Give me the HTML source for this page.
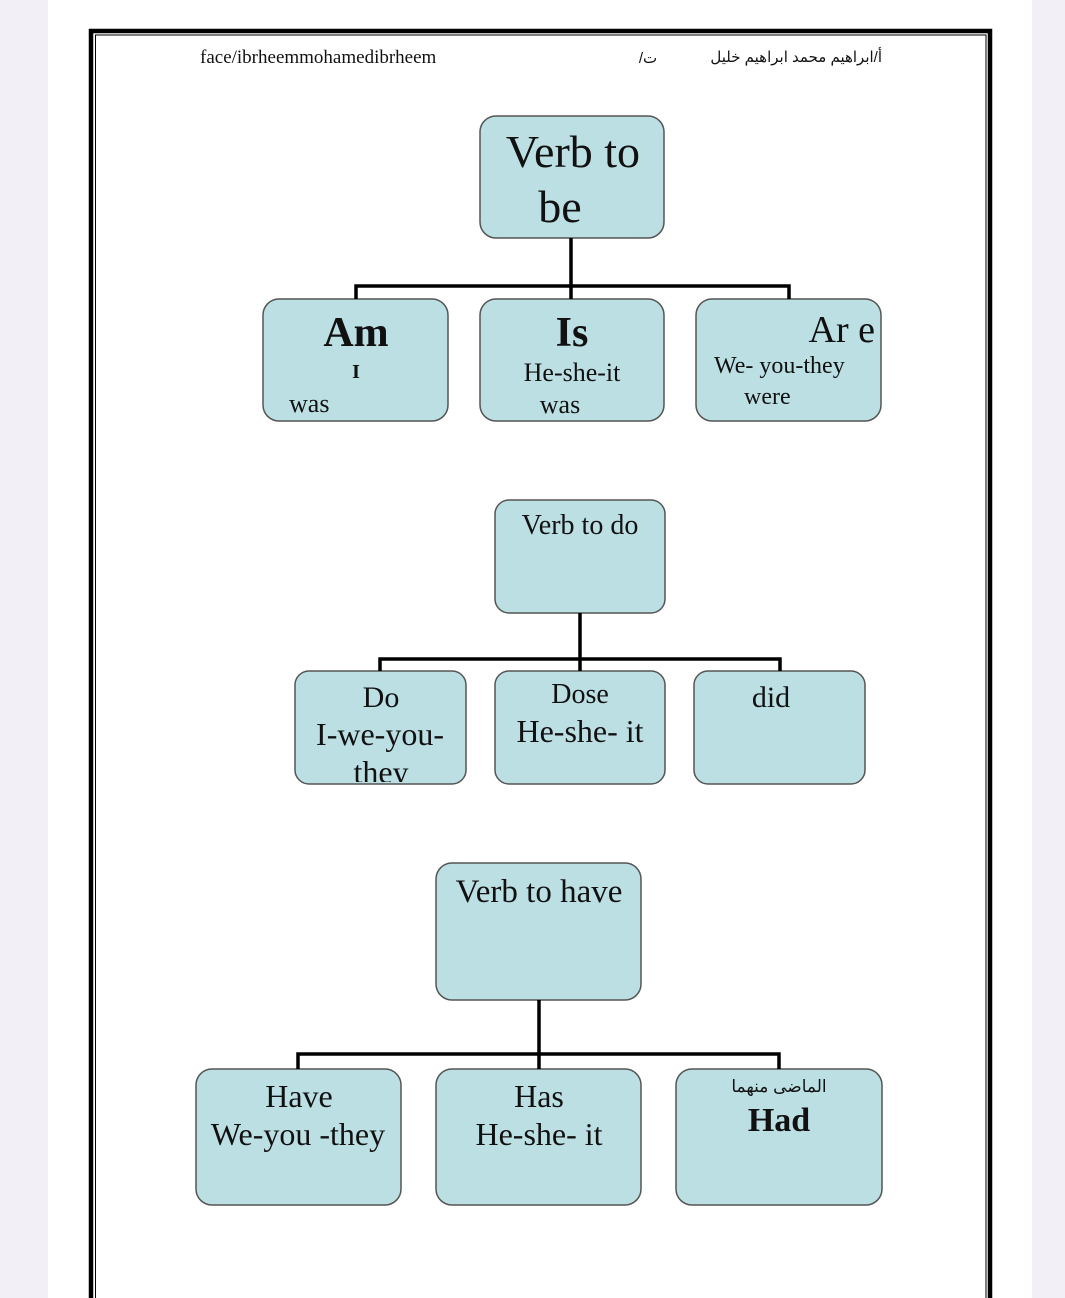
<!DOCTYPE html>
<html><head><meta charset="utf-8"><style>
html,body{margin:0;padding:0;background:#f2eff6;}
svg{display:block;}
text{font-family:"Liberation Serif",serif;fill:#111;}
.ar{font-family:"Liberation Sans","DejaVu Sans",sans-serif;}
</style></head><body>
<svg width="1065" height="1298" viewBox="0 0 1065 1298" xmlns="http://www.w3.org/2000/svg">
<rect x="0" y="0" width="1065" height="1298" fill="#f2eff6"/>
<rect x="48" y="0" width="984" height="1298" fill="#fff"/>
<!-- border -->
<path d="M91 1298 V31 H990 V1298" fill="none" stroke="#000" stroke-width="4.5"/>
<path d="M95.5 1298 V35 H986 V1298" fill="none" stroke="#000" stroke-width="1"/>
<text x="200" y="63" font-size="19">face/ibrheemmohamedibrheem</text>
<text x="648" y="63" font-size="15" class="ar" text-anchor="middle" direction="rtl">ت/</text>
<text x="882" y="62" font-size="15" class="ar" text-anchor="start" direction="rtl">أ/ابراهيم محمد ابراهيم خليل</text>

<g fill="#bbdfe3" stroke="#555" stroke-width="1.5">
<rect x="480" y="116" width="184" height="122" rx="16"/>
<rect x="263" y="299" width="185" height="122" rx="16"/>
<rect x="480" y="299" width="184" height="122" rx="16"/>
<rect x="696" y="299" width="185" height="122" rx="16"/>
<rect x="495" y="500" width="170" height="113" rx="14"/>
<rect x="295" y="671" width="171" height="113" rx="14"/>
<rect x="495" y="671" width="170" height="113" rx="14"/>
<rect x="694" y="671" width="171" height="113" rx="14"/>
<rect x="436" y="863" width="205" height="137" rx="16"/>
<rect x="196" y="1069" width="205" height="136" rx="16"/>
<rect x="436" y="1069" width="205" height="136" rx="16"/>
<rect x="676" y="1069" width="206" height="136" rx="16"/>
</g>
<g fill="none" stroke="#000" stroke-width="3.5">
<path d="M571 238 V299 M356 299 V286 H789 V299"/>
<path d="M580 613 V671 M380 671 V659 H780 V671"/>
<path d="M539 1000 V1069 M298 1069 V1054 H779 V1069"/>
</g>

<text x="573" y="167" font-size="46" text-anchor="middle">Verb to</text>
<text x="560" y="222" font-size="46" text-anchor="middle">be</text>

<text x="356" y="346" font-size="42" font-weight="bold" text-anchor="middle">Am</text>
<text x="356" y="378" font-size="20" font-weight="bold" text-anchor="middle">I</text>
<text x="289" y="412" font-size="26">was</text>

<text x="572" y="346" font-size="42" font-weight="bold" text-anchor="middle">Is</text>
<text x="572" y="381" font-size="26" text-anchor="middle">He-she-it</text>
<text x="560" y="413" font-size="26" text-anchor="middle">was</text>

<text x="875" y="342" font-size="38" text-anchor="end">Ar e</text>
<text x="714" y="373" font-size="24">We- you-they</text>
<text x="744" y="404" font-size="24">were</text>

<text x="580" y="534" font-size="28" text-anchor="middle">Verb to do</text>
<clipPath id="c1"><rect x="295" y="671" width="171" height="111"/></clipPath>
<g clip-path="url(#c1)">
<text x="381" y="707" font-size="30" text-anchor="middle">Do</text>
<text x="380" y="745" font-size="32" text-anchor="middle">I-we-you-</text>
<text x="381" y="783" font-size="32" text-anchor="middle">they</text>
</g>
<text x="580" y="703" font-size="28" text-anchor="middle">Dose</text>
<text x="580" y="742" font-size="32" text-anchor="middle">He-she- it</text>
<text x="771" y="707" font-size="30" text-anchor="middle">did</text>

<text x="539" y="902" font-size="33" text-anchor="middle">Verb to have</text>
<text x="299" y="1107" font-size="32" text-anchor="middle">Have</text>
<text x="298" y="1145" font-size="32" text-anchor="middle">We-you -they</text>
<text x="539" y="1107" font-size="32" text-anchor="middle">Has</text>
<text x="539" y="1145" font-size="32" text-anchor="middle">He-she- it</text>
<text x="779" y="1092" font-size="17" class="ar" text-anchor="middle" direction="rtl">الماضى منهما</text>
<text x="779" y="1131" font-size="34" font-weight="bold" text-anchor="middle">Had</text>
</svg>
</body></html>
